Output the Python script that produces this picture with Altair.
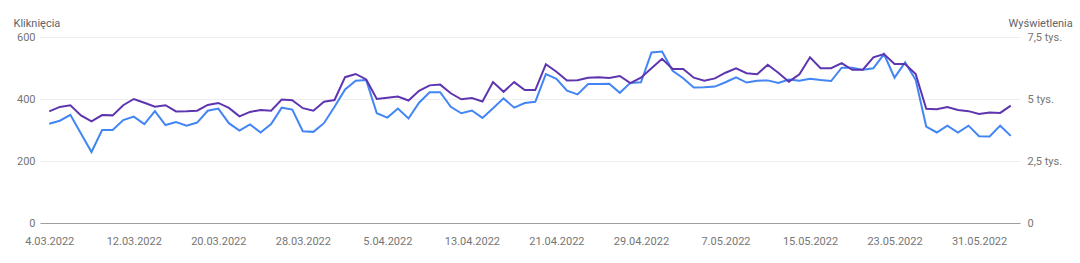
import altair as alt
import pandas as pd
import datetime as dt

start = dt.date(2022, 3, 4)
n_days = 92
dates = [(start + dt.timedelta(days=i)).isoformat() for i in range(n_days)]

clicks = [320, 330, 349, 289, 229, 300, 300, 332, 343, 319,
          361, 316, 326, 314, 324, 362, 369, 322, 298, 318,
          292, 319, 372, 366, 296, 294, 322, 375, 431, 459,
          461, 354, 340, 369, 337, 388, 422, 422, 375, 354,
          363, 339, 370, 402, 372, 387, 391, 480, 465, 427,
          415, 448, 448, 449, 420, 452, 454, 550, 553, 491,
          467, 437, 438, 440, 454, 470, 453, 459, 460, 452,
          463, 459, 465, 461, 458, 501, 501, 494, 499, 545,
          469, 518, 462, 311, 292, 314, 292, 314, 280, 279,
          314, 281]

impressions = [4500, 4680, 4750, 4340, 4100, 4350, 4340, 4750, 5000, 4850,
               4690, 4750, 4500, 4510, 4530, 4760, 4840, 4640, 4300, 4480,
               4560, 4530, 4980, 4950, 4630, 4530, 4890, 4960, 5880, 6010,
               5790, 5000, 5050, 5100, 4940, 5330, 5550, 5580, 5230, 4990,
               5040, 4900, 5680, 5290, 5680, 5360, 5360, 6400, 6100, 5750,
               5760, 5860, 5880, 5850, 5930, 5640, 5860, 6240, 6620, 6210,
               6210, 5860, 5740, 5830, 6060, 6240, 6040, 6000, 6380, 6060,
               5700, 6000, 6680, 6240, 6240, 6450, 6180, 6180, 6680, 6810,
               6410, 6410, 6010, 4610, 4590, 4680, 4560, 4510, 4400, 4460,
               4440, 4730]

tick_dates = ["2022-03-04", "2022-03-12", "2022-03-20", "2022-03-28",
              "2022-04-05", "2022-04-13", "2022-04-21", "2022-04-29",
              "2022-05-07", "2022-05-15", "2022-05-23", "2022-05-31"]

df = pd.DataFrame({"date": dates, "clicks": clicks, "impressions": impressions})

tick_vals = [alt.DateTime(year=int(d[:4]), month=int(d[5:7]), date=int(d[8:]), utc=True)
             for d in tick_dates]

x_enc = alt.X(
    "date:T",
    scale=alt.Scale(
        type="utc",
        domain=[alt.DateTime(year=2022, month=3, date=3, hours=3, utc=True),
                alt.DateTime(year=2022, month=6, date=3, hours=21, utc=True)],
    ),
    axis=alt.Axis(
        values=tick_vals, format="%-d.%m.%Y", title=None, grid=False,
        ticks=False, labelPadding=12, domainColor="#9e9e9e", domainWidth=1,
        labelColor="#757575", labelFontSize=11, labelFont="Roboto",
    ),
)

base = alt.Chart(df).encode(x=x_enc)

blue = base.mark_line(color="#4285f4", strokeWidth=2).encode(
    y=alt.Y(
        "clicks:Q",
        scale=alt.Scale(domain=[0, 600], nice=False),
        axis=alt.Axis(
            values=[0, 200, 400, 600], title="Kliknięcia", titleAngle=0,
            titleAlign="left", titleBaseline="alphabetic", titleX=-27, titleY=-11,
            titleFontWeight="normal", titleFontSize=11, titleColor="#5f6368",
            titleFont="Roboto", labelFont="Roboto",
            labelColor="#757575", labelFontSize=11, labelPadding=5, ticks=False,
            domain=False, grid=True, gridColor="#eeeeee",
        ),
    )
)

purple = base.mark_line(color="#5e35b1", strokeWidth=2).encode(
    y=alt.Y(
        "impressions:Q",
        scale=alt.Scale(domain=[0, 7500], nice=False),
        axis=alt.Axis(
            orient="right", values=[0, 2500, 5000, 7500], title="Wyświetlenia",
            titleAngle=0, titleAlign="left", titleBaseline="alphabetic",
            titleX=-12, titleY=-11, titleFontWeight="normal", titleFontSize=11,
            titleColor="#5f6368", titleFont="Roboto", labelFont="Roboto",
            labelColor="#757575", labelFontSize=11, labelPadding=7, ticks=False,
            domain=False, grid=False,
            labelExpr="datum.value == 0 ? '0' : replace(format(datum.value / 1000, '.1~f'), '.', ',') + ' tys.'",
        ),
    )
)

chart = (
    alt.layer(blue, purple)
    .resolve_scale(y="independent")
    .properties(
        width=980, height=186,
        autosize=alt.AutoSizeParams(type="none"),
        padding={"left": 40, "top": 37, "right": 60, "bottom": 40},
        background="white",
    )
    .configure_view(stroke=None)
)

chart.save("out.html", embed_options={"renderer": "svg", "actions": False})
